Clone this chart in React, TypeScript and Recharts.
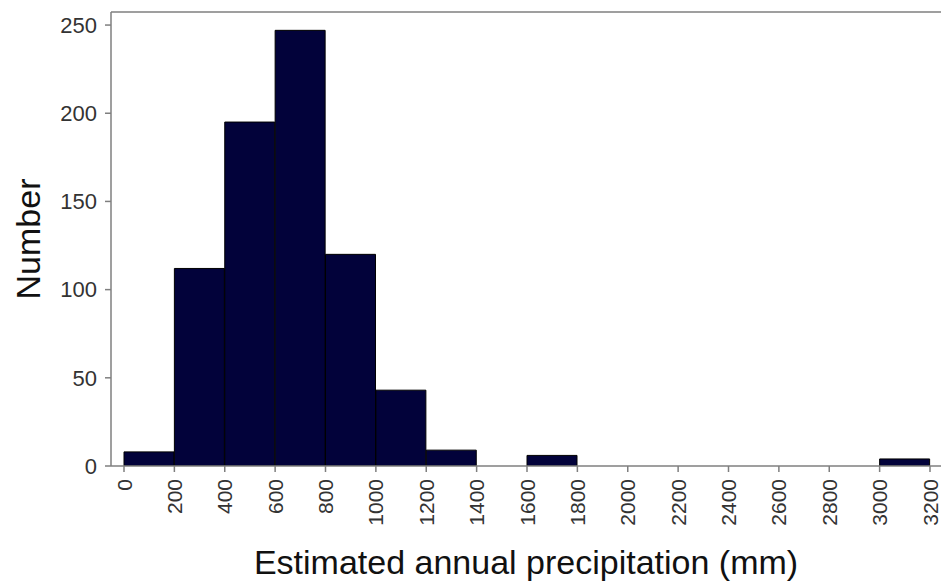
import React from 'react';
import { BarChart, Bar, XAxis, YAxis, ReferenceLine } from 'recharts';

// 200 mm bins, lower edge of each bin
const binStarts = [0, 200, 400, 600, 800, 1000, 1200, 1400, 1600, 1800, 2000, 2200, 2400, 2600, 2800, 3000];
const counts = [8, 112, 195, 247, 120, 43, 9, 0, 6, 0, 0, 0, 0, 0, 0, 4];
const xTicks = [0, 200, 400, 600, 800, 1000, 1200, 1400, 1600, 1800, 2000, 2200, 2400, 2600, 2800, 3000, 3200];
const yTicks = [0, 50, 100, 150, 200, 250];
const yMax = 257.4;

const data = binStarts.map((start, i) => ({ bin: String(start), start, count: counts[i] }));

const axisGray = '#7f7f7f';
const font = '"Liberation Sans", Arial, sans-serif';
const pad = { left: 13, right: 11 };

const XTick = (props: any) => {
  const { x, y, payload } = props;
  const ty = y + 5;
  return (
    <text
      x={x}
      y={ty}
      transform={`rotate(-90, ${x}, ${ty})`}
      textAnchor="end"
      dy="0.36em"
      fontSize={21}
      fontFamily={font}
      fill="#333"
    >
      {payload.value}
    </text>
  );
};

const YLabel = (props: any) => {
  const { viewBox } = props;
  const cx = viewBox.x + 28;
  const cy = viewBox.y + viewBox.height / 2;
  return (
    <text x={cx} y={cy} transform={`rotate(-90, ${cx}, ${cy})`} textAnchor="middle" dy="0.36em"
      fontSize={34} fontFamily={font} fill="#111">
      Number
    </text>
  );
};

const XLabel = (props: any) => {
  const { viewBox } = props;
  const cx = viewBox.x + viewBox.width / 2;
  return (
    <text x={cx} y={574} textAnchor="middle" fontSize={34} fontFamily={font} fill="#111">
      Estimated annual precipitation (mm)
    </text>
  );
};

export default function App() {
  return (
    <div style={{ position: 'absolute', left: 0, top: 0, background: '#fff' }}>
      <BarChart
        width={941}
        height={585}
        data={data}
        barCategoryGap={0}
        margin={{ top: 12, right: 0, bottom: 0, left: 0 }}
      >
        <XAxis xAxisId="num"
          dataKey="start"
          type="number"
          domain={[0, 3200]}
          ticks={xTicks}
          allowDataOverflow
          padding={pad}
          height={119}
          interval={0}
          tick={<XTick />}
          tickSize={6}
          axisLine={{ stroke: axisGray, strokeWidth: 1.5 }}
          tickLine={{ stroke: axisGray, strokeWidth: 1.5 }}
          label={<XLabel />}
        />
        <XAxis xAxisId="cat" dataKey="bin" hide height={0} padding={pad} />
        <YAxis
          width={111}
          domain={[0, yMax]}
          ticks={yTicks}
          allowDataOverflow
          tickSize={6}
          tickMargin={8}
          tick={{ fontSize: 22, fontFamily: font, fill: '#333' }}
          axisLine={{ stroke: axisGray, strokeWidth: 1.5 }}
          tickLine={{ stroke: axisGray, strokeWidth: 1.5 }}
          label={<YLabel />}
        />
        <ReferenceLine y={yMax} xAxisId="num" stroke={axisGray} strokeWidth={1.5} />
        <Bar
          xAxisId="cat"
          dataKey="count"
          fill="#02023a"
          stroke="#000"
          strokeWidth={1}
          isAnimationActive={false}
        />
      </BarChart>
    </div>
  );
}
